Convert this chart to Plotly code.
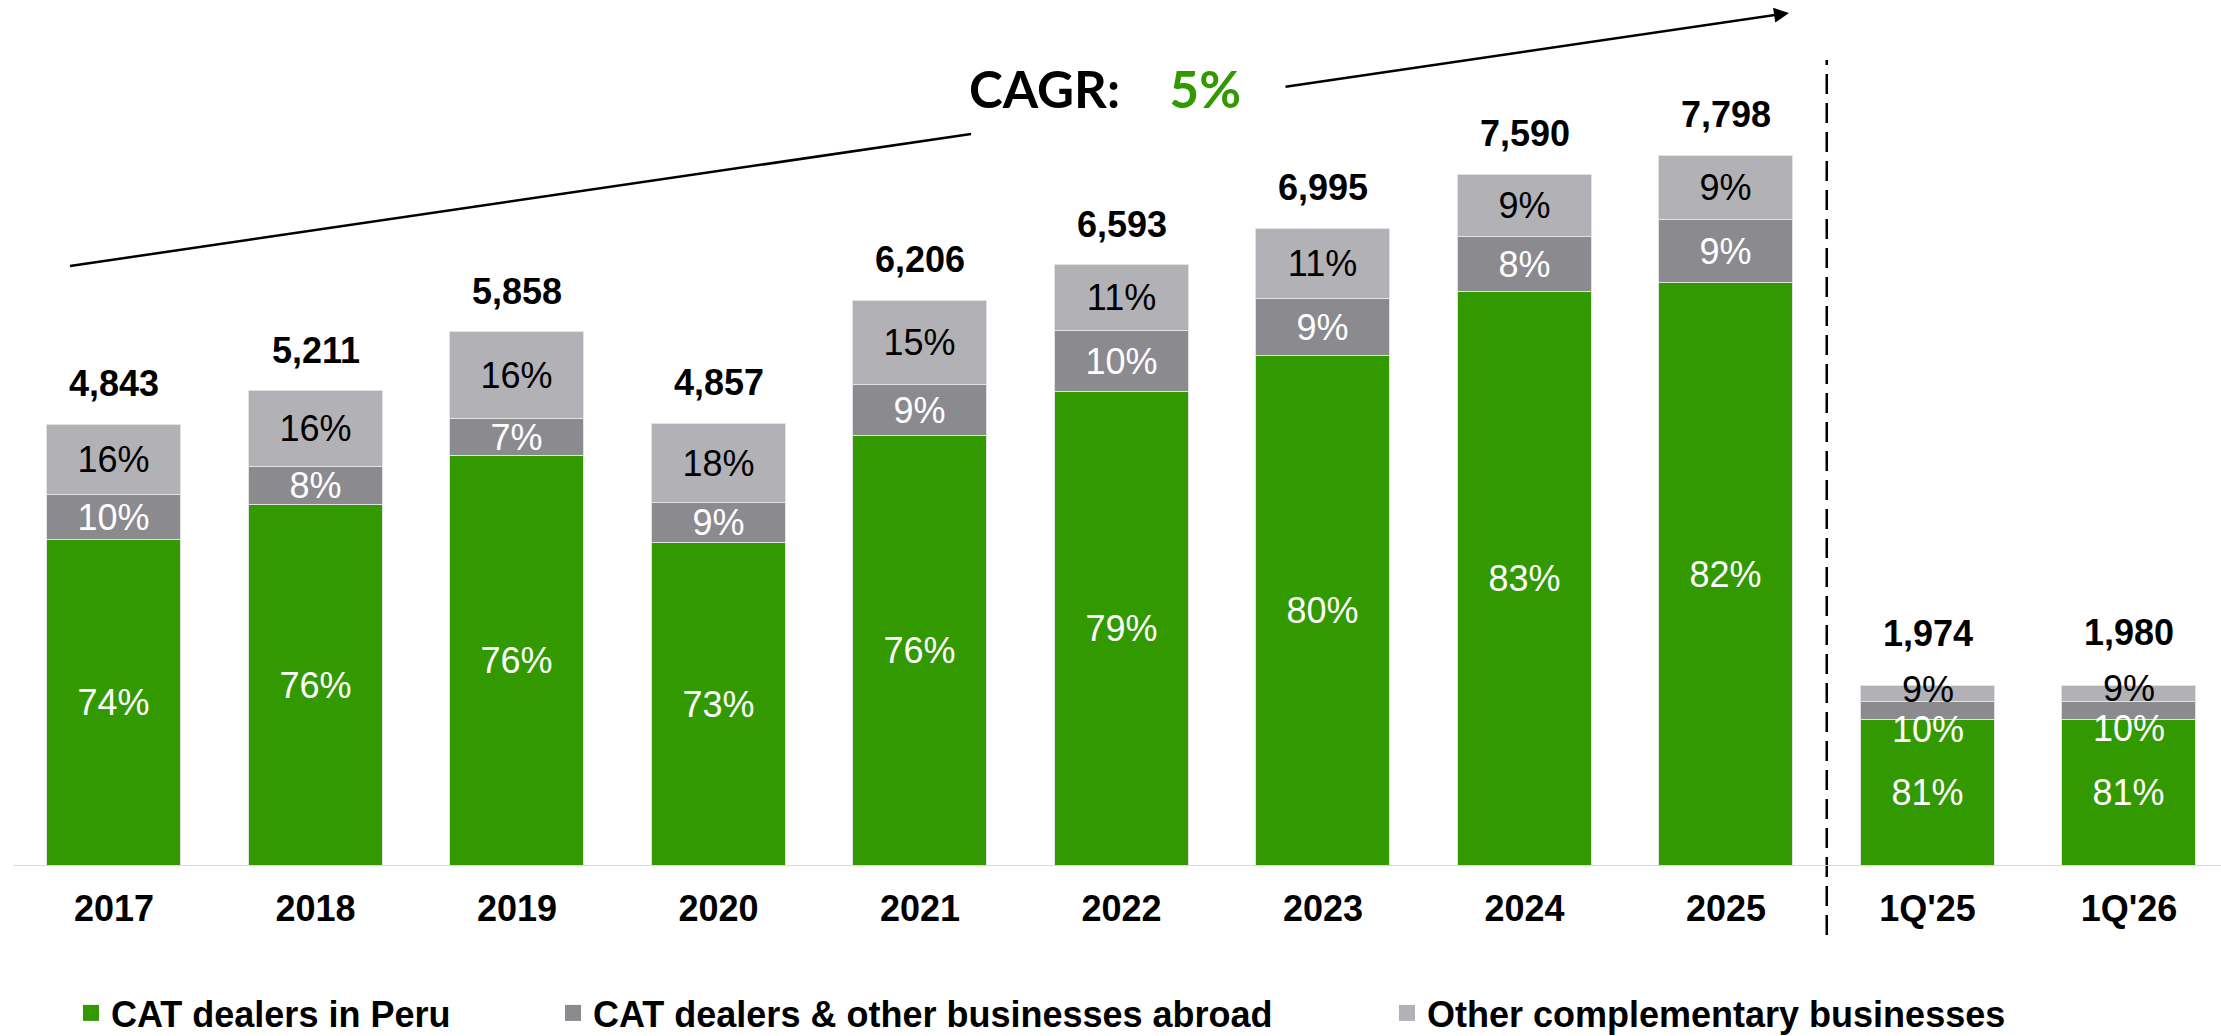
import plotly.graph_objects as go

# ---------------- data ----------------
categories = ["2017", "2018", "2019", "2020", "2021", "2022", "2023", "2024", "2025", "1Q'25", "1Q'26"]
totals = [4843, 5211, 5858, 4857, 6206, 6593, 6995, 7590, 7798, 1974, 1980]
peru_pct = [74, 76, 76, 73, 76, 79, 80, 83, 82, 81, 81]
abroad_pct = [10, 8, 7, 9, 9, 10, 9, 8, 9, 10, 10]
other_pct = [16, 16, 16, 18, 15, 11, 11, 9, 9, 9, 9]
series_names = ["CAT dealers in Peru", "CAT dealers & other businesses abroad", "Other complementary businesses"]
cagr_label = "CAGR:"
cagr_value = "5%"

# ---------------- style ----------------
GREEN = "#339900"
DARK = "#8b8a8f"
LIGHT = "#b2b1b6"
FONT = "Liberation Sans, Arial, sans-serif"
W, H = 2221, 1036
BASE = 866                   # pixel row of the baseline
PX_PER_UNIT = 0.0911
N_YEARS = 9                  # first 9 categories are full years; the rest are quarters

shares = []
for p, a, o in zip(peru_pct, abroad_pct, other_pct):
    s = p + a + o
    shares.append((p / s, a / s, o / s))
seg_peru = [t * sh[0] for t, sh in zip(totals, shares)]
seg_abroad = [t * sh[1] for t, sh in zip(totals, shares)]
seg_other = [t * sh[2] for t, sh in zip(totals, shares)]

fig = go.Figure()
series = [
    (series_names[0], seg_peru, peru_pct, GREEN, "white", "legend"),
    (series_names[1], seg_abroad, abroad_pct, DARK, "white", "legend2"),
    (series_names[2], seg_other, other_pct, LIGHT, "black", "legend3"),
]
for k, (name, vals, pcts, col, tcol, lg) in enumerate(series):
    texts = [f"{v}%" if (k == 0 or i < N_YEARS) else "" for i, v in enumerate(pcts)]
    fig.add_trace(go.Bar(
        x=categories, y=vals, name=name, width=0.665,
        marker=dict(color=col, line=dict(color="#e2e2e2", width=1)),
        text=texts, textposition="inside",
        insidetextanchor="middle", constraintext="none",
        textfont=dict(family=FONT, size=36, color=tcol),
        showlegend=False, legendgroup=name, hoverinfo="skip",
    ))
    fig.add_trace(go.Scatter(
        x=[None], y=[None], mode="markers", name=name, legend=lg, legendgroup=name,
        marker=dict(symbol="square", size=16, color=col),
        showlegend=True,
    ))

# labels of the thin quarterly segments (placed through the y scale, nudged apart)
for i in range(N_YEARS, len(categories)):
    mid_ab = seg_peru[i] + seg_abroad[i] / 2
    mid_ot = seg_peru[i] + seg_abroad[i] + seg_other[i] / 2
    fig.add_annotation(x=i, y=mid_ab, xref="x", yref="y", text=f"{abroad_pct[i]}%",
                       showarrow=False, yanchor="middle", yshift=-18,
                       font=dict(family=FONT, size=36, color="white"))
    fig.add_annotation(x=i, y=mid_ot, xref="x", yref="y", text=f"{other_pct[i]}%",
                       showarrow=False, yanchor="middle", yshift=5,
                       font=dict(family=FONT, size=36, color="black"))

# total labels
for i, t in enumerate(totals):
    fig.add_annotation(
        x=i, y=t, xref="x", yref="y", text=f"<b>{t:,}</b>", showarrow=False,
        yanchor="middle", yshift=41 if i < N_YEARS else 53,
        font=dict(family=FONT, size=36, color="black"),
    )

def py(p):
    return (BASE - p) / BASE

def px(p):
    return p / W

# CAGR text
fig.add_annotation(
    x=px(1105), y=py(88), xref="paper", yref="paper", showarrow=False,
    text=f"<b>{cagr_label}&nbsp;&nbsp;&nbsp;&nbsp;<span style='color:{GREEN}'>{cagr_value}</span></b>",
    font=dict(family="Lato, Carlito, Calibri, sans-serif", size=51, color="black"),
    xanchor="center", yanchor="middle",
)
# left line of CAGR
fig.add_shape(type="line", xref="paper", yref="paper",
              x0=px(70), y0=py(266), x1=px(971), y1=py(134),
              line=dict(color="black", width=2.5))
# right arrow of CAGR
fig.add_annotation(
    x=px(1789), y=py(13), xref="paper", yref="paper", text="",
    showarrow=True, ax=1284 - 1789, ay=87 - 13, axref="pixel", ayref="pixel",
    arrowhead=2, arrowsize=1.2, arrowwidth=2.5, arrowcolor="black",
)
# dashed separator
fig.add_shape(type="line", xref="x", yref="paper",
              x0=8.5, x1=8.5, y0=py(935), y1=py(60),
              line=dict(color="black", width=2.5, dash="20px,9px"))
# baseline
fig.add_shape(type="line", xref="x", yref="y",
              x0=-0.5, x1=10.6, y0=0, y1=0,
              line=dict(color="#d9d9d9", width=2))

ymax = BASE / PX_PER_UNIT
centre0 = 114
step = (2129 - 114) / 10

leg_common = dict(orientation="h", yanchor="middle", xanchor="left",
                  font=dict(family=FONT, size=36, color="black", weight="bold"),
                  bgcolor="rgba(0,0,0,0)", borderwidth=0)
fig.update_layout(
    width=W, height=H,
    margin=dict(l=0, r=0, t=0, b=H - BASE, pad=0, autoexpand=False),
    paper_bgcolor="white", plot_bgcolor="white",
    barmode="stack", bargap=0,
    font=dict(family=FONT),
    xaxis=dict(
        type="category", range=[-centre0 / step, (W - centre0) / step],
        showgrid=False, zeroline=False, showline=False, ticks="",
        tickfont=dict(family=FONT, size=36, color="black", weight="bold"),
        ticklabelstandoff=18, fixedrange=True, automargin=False,
    ),
    yaxis=dict(range=[0, ymax], visible=False, showgrid=False, zeroline=False,
               automargin=False),
    legend=dict(x=px(71), y=py(1013), **leg_common),
    legend2=dict(x=px(553), y=py(1013), **leg_common),
    legend3=dict(x=px(1387), y=py(1013), **leg_common),
)

fig.write_html(
    "out.html",
    config={"displayModeBar": False},
    post_script="document.body.style.margin='0';document.body.style.overflow='hidden';",
)
